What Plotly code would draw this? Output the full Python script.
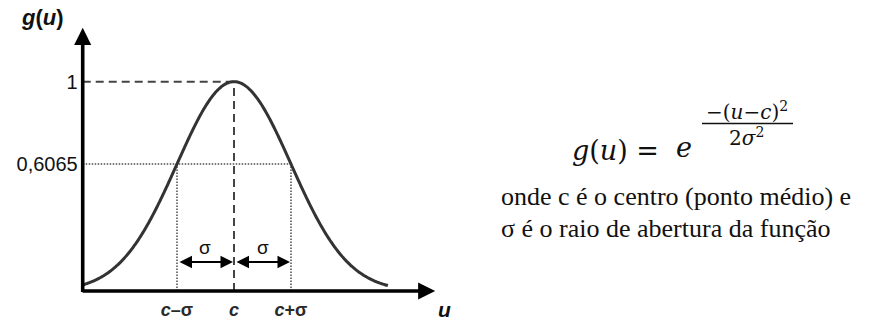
import numpy as np
import plotly.graph_objects as go

# Gaussian membership function g(u) = exp(-(u-c)^2 / (2 sigma^2))
center_c = 0.0
sigma = 1.0
u_start = -2.654          # where the vertical axis sits
u_stop = 2.70             # right end of the drawn curve
u_arrow_tip = 3.53        # tip of the horizontal axis arrow
g_arrow_tip = 1.257       # tip of the vertical axis arrow
sigma_level = 0.6065      # g(c +/- sigma)
sigma_arrow_level = 0.139
sigma_label_level = 0.21

x_tick_vals = [center_c - sigma, center_c, center_c + sigma]
x_tick_text = ["<b><i>c</i>\u2013σ</b>", "<b><i>c</i></b>", "<b><i>c</i>+σ</b>"]
y_tick_vals = [sigma_level, 1.0]
y_tick_text = ["0,6065", "1"]

caption_lines = [
    "onde c é o centro (ponto médio) e",
    "σ é o raio de abertura da função",
]

W, H = 871, 322

u = np.linspace(u_start, u_stop, 301)
g = np.exp(-((u - center_c) ** 2) / (2 * sigma ** 2))


def px(x):
    return x / W


def py(y):
    return 1 - y / H


INK = "#111111"
CURVE = "#333333"
GUIDE = "#444444"
DOT = "#777777"
SANS = "Liberation Sans"
SERIF = "'Times New Roman', 'Liberation Serif', serif"
MATH = "DejaVu Serif"

fig = go.Figure()

# dashed guides to the peak
fig.add_trace(go.Scatter(x=[u_start, center_c], y=[1, 1], mode="lines",
                         line=dict(color=GUIDE, width=2, dash="8px,5px"),
                         hoverinfo="skip"))
fig.add_trace(go.Scatter(x=[center_c, center_c], y=[0, 1], mode="lines",
                         line=dict(color=GUIDE, width=2, dash="8px,5px"),
                         hoverinfo="skip"))
# dotted guides at c +/- sigma
fig.add_trace(go.Scatter(x=[u_start, center_c + sigma], y=[sigma_level, sigma_level],
                         mode="lines", line=dict(color=DOT, width=2, dash="1.5px,1.5px"),
                         hoverinfo="skip"))
for xv in (center_c - sigma, center_c + sigma):
    fig.add_trace(go.Scatter(x=[xv, xv], y=[0, sigma_level], mode="lines",
                             line=dict(color=DOT, width=2, dash="1.5px,1.5px"),
                             hoverinfo="skip"))

# the curve
fig.add_trace(go.Scatter(x=u, y=g, mode="lines",
                         line=dict(color=CURVE, width=3, shape="spline"),
                         hoverinfo="skip"))

annotations = []

# axes drawn as arrows
annotations.append(dict(x=u_start, y=g_arrow_tip, ax=u_start, ay=-0.012,
                        xref="x", yref="y", axref="x", ayref="y", text="",
                        showarrow=True, arrowhead=2, arrowsize=0.95,
                        arrowwidth=3.6, arrowcolor="#000000", standoff=0))
annotations.append(dict(x=u_arrow_tip, y=0, ax=u_start - 0.03, ay=0,
                        xref="x", yref="y", axref="x", ayref="y", text="",
                        showarrow=True, arrowhead=2, arrowsize=0.95,
                        arrowwidth=3.6, arrowcolor="#000000", standoff=0))

# sigma spans
for a, b in ((center_c - sigma, center_c), (center_c, center_c + sigma)):
    annotations.append(dict(x=b, y=sigma_arrow_level, ax=a, ay=sigma_arrow_level,
                            xref="x", yref="y", axref="x", ayref="y", text="",
                            showarrow=True, arrowhead=2, startarrowhead=2,
                            arrowside="end+start", arrowsize=1.25, startarrowsize=1.25,
                            arrowwidth=2, arrowcolor="#000000",
                            standoff=1, startstandoff=1))
for xv in (center_c - sigma / 2, center_c + sigma / 2):
    annotations.append(dict(x=xv, y=sigma_label_level, xref="x", yref="y",
                            text="σ", showarrow=False,
                            font=dict(family=SANS, size=19, color=INK)))

# axis names
annotations.append(dict(x=px(19), y=py(3), xref="paper", yref="paper",
                        xanchor="left", yanchor="top",
                        text="<b><i>g</i>(<i>u</i>)</b>", showarrow=False,
                        font=dict(family=SANS, size=22, color=INK)))
annotations.append(dict(x=px(436), y=py(296), xref="paper", yref="paper",
                        xanchor="left", yanchor="top",
                        text="<b><i>u</i></b>", showarrow=False,
                        font=dict(family=SANS, size=21, color=INK)))

# formula
annotations.append(dict(x=px(570), y=py(150), xref="paper", yref="paper",
                        xanchor="left", yanchor="middle",
                        text="<i>g</i>(<i>u</i>) =", showarrow=False,
                        font=dict(family=MATH, size=27, color=INK)))
annotations.append(dict(x=px(684), y=py(147), xref="paper", yref="paper",
                        xanchor="center", yanchor="middle",
                        text="<i>e</i>", showarrow=False,
                        font=dict(family=MATH, size=27, color=INK)))
annotations.append(dict(x=px(747), y=py(111), xref="paper", yref="paper",
                        xanchor="center", yanchor="middle",
                        text="\u2212(<i>u</i>\u2212<i>c</i>)<sup>2</sup>", showarrow=False,
                        font=dict(family=MATH, size=20, color=INK)))
annotations.append(dict(x=px(746), y=py(137), xref="paper", yref="paper",
                        xanchor="center", yanchor="middle",
                        text="2<i>σ</i><sup>2</sup>", showarrow=False,
                        font=dict(family=MATH, size=20, color=INK)))

# caption
for i, line in enumerate(caption_lines):
    annotations.append(dict(x=px(499), y=py(196 + 32 * i), xref="paper", yref="paper",
                            xanchor="left", yanchor="middle", text=line, showarrow=False,
                            font=dict(family=SERIF, size=26, color=INK)))

shapes = [dict(type="line", xref="paper", yref="paper",
               x0=px(702), x1=px(793), y0=py(123.5), y1=py(123.5),
               line=dict(color=INK, width=1.4))]

fig.update_layout(
    template="none",
    width=W, height=H,
    margin=dict(l=0, r=0, t=0, b=0, autoexpand=False),
    paper_bgcolor="white", plot_bgcolor="white",
    showlegend=False,
    annotations=annotations,
    shapes=shapes,
    xaxis=dict(range=[-4.105, 11.175], showgrid=False, zeroline=False, showline=False,
               tickvals=x_tick_vals, ticktext=x_tick_text, ticks="",
               anchor="free", position=31 / H, ticklabelstandoff=6, automargin=False,
               tickfont=dict(family=SANS, size=18, color="#2a2a2a")),
    yaxis=dict(range=[-0.148, 1.390], showgrid=False, zeroline=False, showline=False,
               tickvals=y_tick_vals, ticktext=y_tick_text, ticks="",
               anchor="free", position=82.7 / W, ticklabelstandoff=5, automargin=False,
               tickfont=dict(family=SANS, size=20, color=INK)),
)

fig.write_html("out.html")
